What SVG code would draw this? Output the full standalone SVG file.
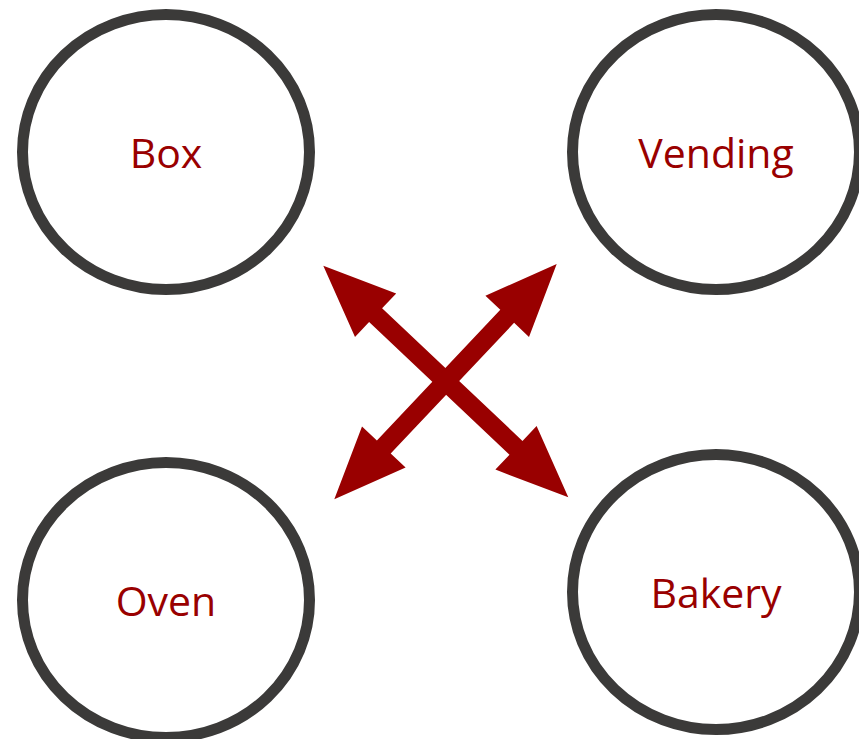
<svg xmlns="http://www.w3.org/2000/svg" width="859" height="739" viewBox="0 0 859 739">
  <style>
    .ring { fill: #ffffff; stroke: #3b3a39; stroke-width: 11; }
    .label { font-family: "Open Sans", "Liberation Sans", sans-serif; font-size: 41px; fill: #990000; text-anchor: middle; }
    .arrow { fill: #990000; stroke: none; }
  </style>
  <rect width="859" height="739" fill="#ffffff"/>

  <g id="node-box">
    <ellipse class="ring" cx="166" cy="152" rx="143.5" ry="137.5"/>
    <text class="label" x="166" y="168">Box</text>
  </g>
  <g id="node-vending">
    <ellipse class="ring" cx="716" cy="152" rx="143.5" ry="137.5"/>
    <text class="label" x="716" y="168">Vending</text>
  </g>
  <g id="node-oven">
    <ellipse class="ring" cx="166" cy="600" rx="143.5" ry="137.5"/>
    <text class="label" x="166" y="616">Oven</text>
  </g>
  <g id="node-bakery">
    <ellipse class="ring" cx="716" cy="592" rx="143.5" ry="137.5"/>
    <text class="label" x="716" y="608">Bakery</text>
  </g>

  <g id="connectors">
    <!-- Box <-> Bakery -->
    <polygon class="arrow" points="323.3,265.7 396.2,293.4 382.1,308.3 522.5,440.9 536.6,426.0 568.3,497.3 495.4,469.6 509.5,454.7 369.1,322.1 355.0,337.0"/>
    <!-- Vending <-> Oven -->
    <polygon class="arrow" points="556.7,264 485.4,295.7 500.3,309.8 376.9,440.5 362.0,426.4 334.3,499.3 405.6,467.6 390.7,453.5 514.1,322.8 529.0,336.9"/>
  </g>
</svg>
